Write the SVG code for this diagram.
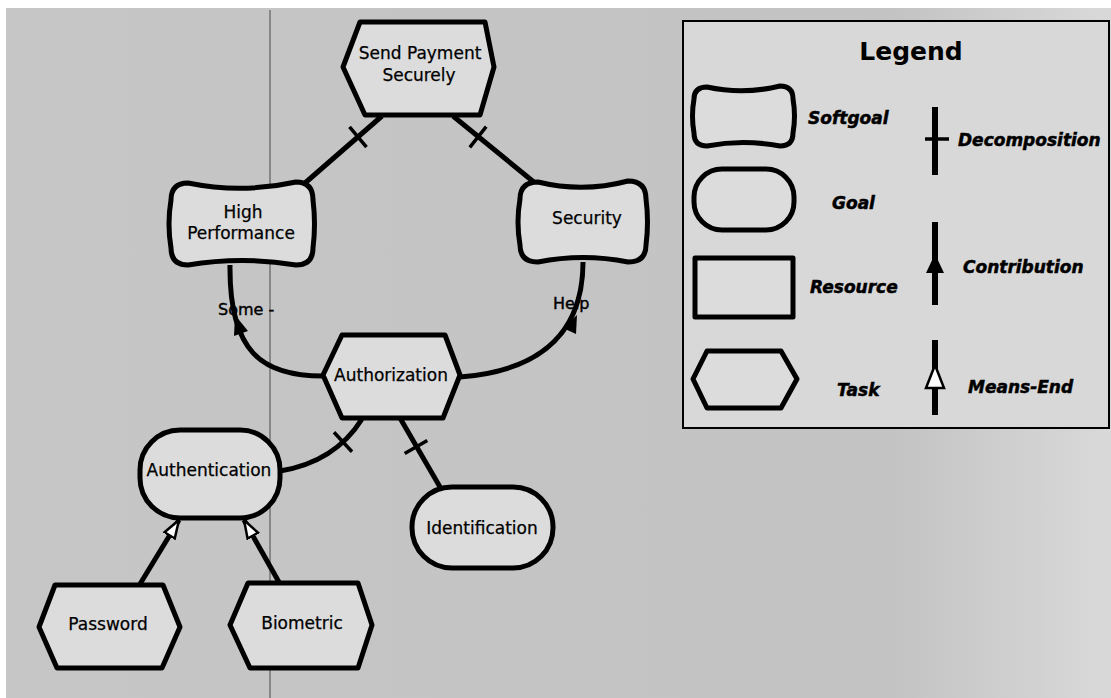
<svg xmlns="http://www.w3.org/2000/svg" width="1111" height="698" viewBox="0 0 1111 698">
  <defs>
    <linearGradient id="paper" x1="0" y1="0" x2="1" y2="0">
      <stop offset="0" stop-color="#c6c6c6"/>
      <stop offset="0.8" stop-color="#c3c3c3"/>
      <stop offset="1" stop-color="#d9d9d9"/>
    </linearGradient>
    <marker id="meansEnd" viewBox="0 0 20 16" refX="19" refY="8" markerWidth="20" markerHeight="16" markerUnits="userSpaceOnUse" orient="auto">
      <path d="M1,2 L19,8 L1,14 Z" fill="#ffffff" stroke="#000" stroke-width="2.5" stroke-linejoin="miter"/>
    </marker>
    <style>
      .node { fill: #dcdcdc; stroke: #000; stroke-width: 5; stroke-linejoin: round; }
      .link { fill: none; stroke: #000; stroke-width: 5; stroke-linecap: butt; }
      .tick { stroke: #000; stroke-width: 3.5; }
      .head { fill: #000; }
      .label { font-family: "DejaVu Sans", Verdana, sans-serif; font-size: 17px; fill: #000; text-anchor: middle; stroke: #000; stroke-width: 0.25; }
      .lnk-label { font-family: "DejaVu Sans", Verdana, sans-serif; font-size: 16px; fill: #000; stroke: #000; stroke-width: 0.4; }
      .legend-title { font-family: "DejaVu Sans", Verdana, sans-serif; font-size: 25px; font-weight: bold; fill: #000; text-anchor: middle; }
      .legend-text { font-family: "DejaVu Sans", Verdana, sans-serif; font-size: 17px; font-weight: bold; font-style: italic; fill: #000; stroke: #000; stroke-width: 0.5; }
      .legend-line { fill: none; stroke: #000; stroke-width: 6; }
    </style>
  </defs>

  <!-- page -->
  <rect x="0" y="0" width="1111" height="698" fill="#ffffff"/>
  <rect x="6" y="8" width="1105" height="690" fill="url(#paper)"/>
  <line x1="270" y1="10" x2="270" y2="698" stroke="#4a4a4a" stroke-width="1"/>

  <!-- connectors -->
  <g id="connectors">
    <!-- decompositions of Send Payment Securely -->
    <line class="link" x1="382" y1="116" x2="305" y2="183"/>
    <line class="tick" x1="349.5" y1="126.9" x2="366.5" y2="147.1"/>
    <line class="link" x1="453" y1="116" x2="535" y2="183"/>
    <line class="tick" x1="486.2" y1="126.7" x2="469.8" y2="147.3"/>

    <!-- contributions from Authorization -->
    <path class="link" d="M230,265 C229,352 262,376 323,376"/>
    <polygon class="head" points="235,315 248,331 234,336"/>
    <text class="lnk-label" x="218" y="315">Some -</text>

    <path class="link" d="M460,377 C525,372 583,345 583,262"/>
    <polygon class="head" points="577,315 576,334 563,328"/>
    <text class="lnk-label" x="553" y="309">Help</text>

    <!-- decompositions of Authorization -->
    <path class="link" d="M362,419 Q335,462 280,471"/>
    <line class="tick" x1="334" y1="432.3" x2="352" y2="451.7"/>
    <line class="link" x1="400" y1="418" x2="440" y2="487"/>
    <line class="tick" x1="427.3" y1="440.5" x2="404.7" y2="453.5"/>

    <!-- means-end links to Authentication -->
    <line class="link" x1="140" y1="584" x2="179" y2="520" marker-end="url(#meansEnd)"/>
    <line class="link" x1="280" y1="584" x2="244" y2="520" marker-end="url(#meansEnd)"/>
  </g>

  <!-- nodes -->
  <g id="send-payment-securely">
    <polygon class="node" points="360,22 485,22 494,67 480,115 365,115 343,67"/>
    <text class="label" x="420" y="59">Send Payment</text>
    <text class="label" x="419" y="81">Securely</text>
  </g>

  <g id="high-performance">
    <path class="node" d="M188,183 Q242,194 296,182 Q313,182 313,200 Q316,224 313,248 Q313,265 296,265 Q242,256 188,265 Q171,265 171,248 Q167,224 171,200 Q171,183 188,183 Z"/>
    <text class="label" x="243" y="218">High</text>
    <text class="label" x="241" y="239">Performance</text>
  </g>

  <g id="security">
    <path class="node" d="M538,182 Q583,193 628,181 Q646,181 646,199 Q649,222 646,245 Q646,262 628,262 Q583,253 538,262 Q520,262 520,245 Q516,222 520,199 Q520,182 538,182 Z"/>
    <text class="label" x="587" y="224">Security</text>
  </g>

  <g id="authorization">
    <polygon class="node" points="342,335 445,335 460,375 443,418 342,418 323,375"/>
    <text class="label" x="391" y="381">Authorization</text>
  </g>

  <g id="authentication">
    <rect class="node" x="140" y="430" width="140" height="88" rx="40" ry="40"/>
    <text class="label" x="209" y="476">Authentication</text>
  </g>

  <g id="identification">
    <rect class="node" x="412" y="487" width="141" height="81" rx="40" ry="40"/>
    <text class="label" x="482" y="534">Identification</text>
  </g>

  <g id="password">
    <polygon class="node" points="55,585 163,585 180,627 162,668 57,668 39,627"/>
    <text class="label" x="108" y="630">Password</text>
  </g>

  <g id="biometric">
    <polygon class="node" points="248,583 358,583 372,625 358,668 250,668 230,625"/>
    <text class="label" x="302" y="629">Biometric</text>
  </g>

  <!-- legend -->
  <g id="legend">
    <rect x="683" y="21" width="426" height="407" fill="#d8d8d8" stroke="#000" stroke-width="2"/>
    <text class="legend-title" x="911" y="60">Legend</text>

    <path class="node" d="M707,87 Q743,95 780,86 Q793,86 793,99 Q796,116 793,133 Q793,146 780,146 Q743,139 707,146 Q694,146 694,133 Q691,116 694,99 Q694,87 707,87 Z" stroke-width="4.5"/>
    <text class="legend-text" x="808" y="124">Softgoal</text>

    <rect class="node" x="694" y="169" width="100" height="61" rx="28" ry="28" stroke-width="4.5"/>
    <text class="legend-text" x="832" y="209">Goal</text>

    <rect class="node" x="695" y="258" width="98" height="59" stroke-width="4"/>
    <text class="legend-text" x="810" y="293">Resource</text>

    <polygon class="node" points="707,351 781,351 797,379 781,408 707,408 693,379" stroke-width="4"/>
    <text class="legend-text" x="837" y="396">Task</text>

    <line class="legend-line" x1="935" y1="107" x2="935" y2="175"/>
    <line x1="925" y1="139" x2="949" y2="139" stroke="#000" stroke-width="3.5"/>
    <text class="legend-text" x="958" y="146">Decomposition</text>

    <line class="legend-line" x1="935" y1="222" x2="935" y2="305"/>
    <polygon class="head" points="935,254 944,273 926,273"/>
    <text class="legend-text" x="963" y="273">Contribution</text>

    <line class="legend-line" x1="935" y1="340" x2="935" y2="415"/>
    <polygon points="935,365 944,388 926,388" fill="#ffffff" stroke="#000" stroke-width="2.5"/>
    <text class="legend-text" x="968" y="393">Means-End</text>
  </g>
</svg>
